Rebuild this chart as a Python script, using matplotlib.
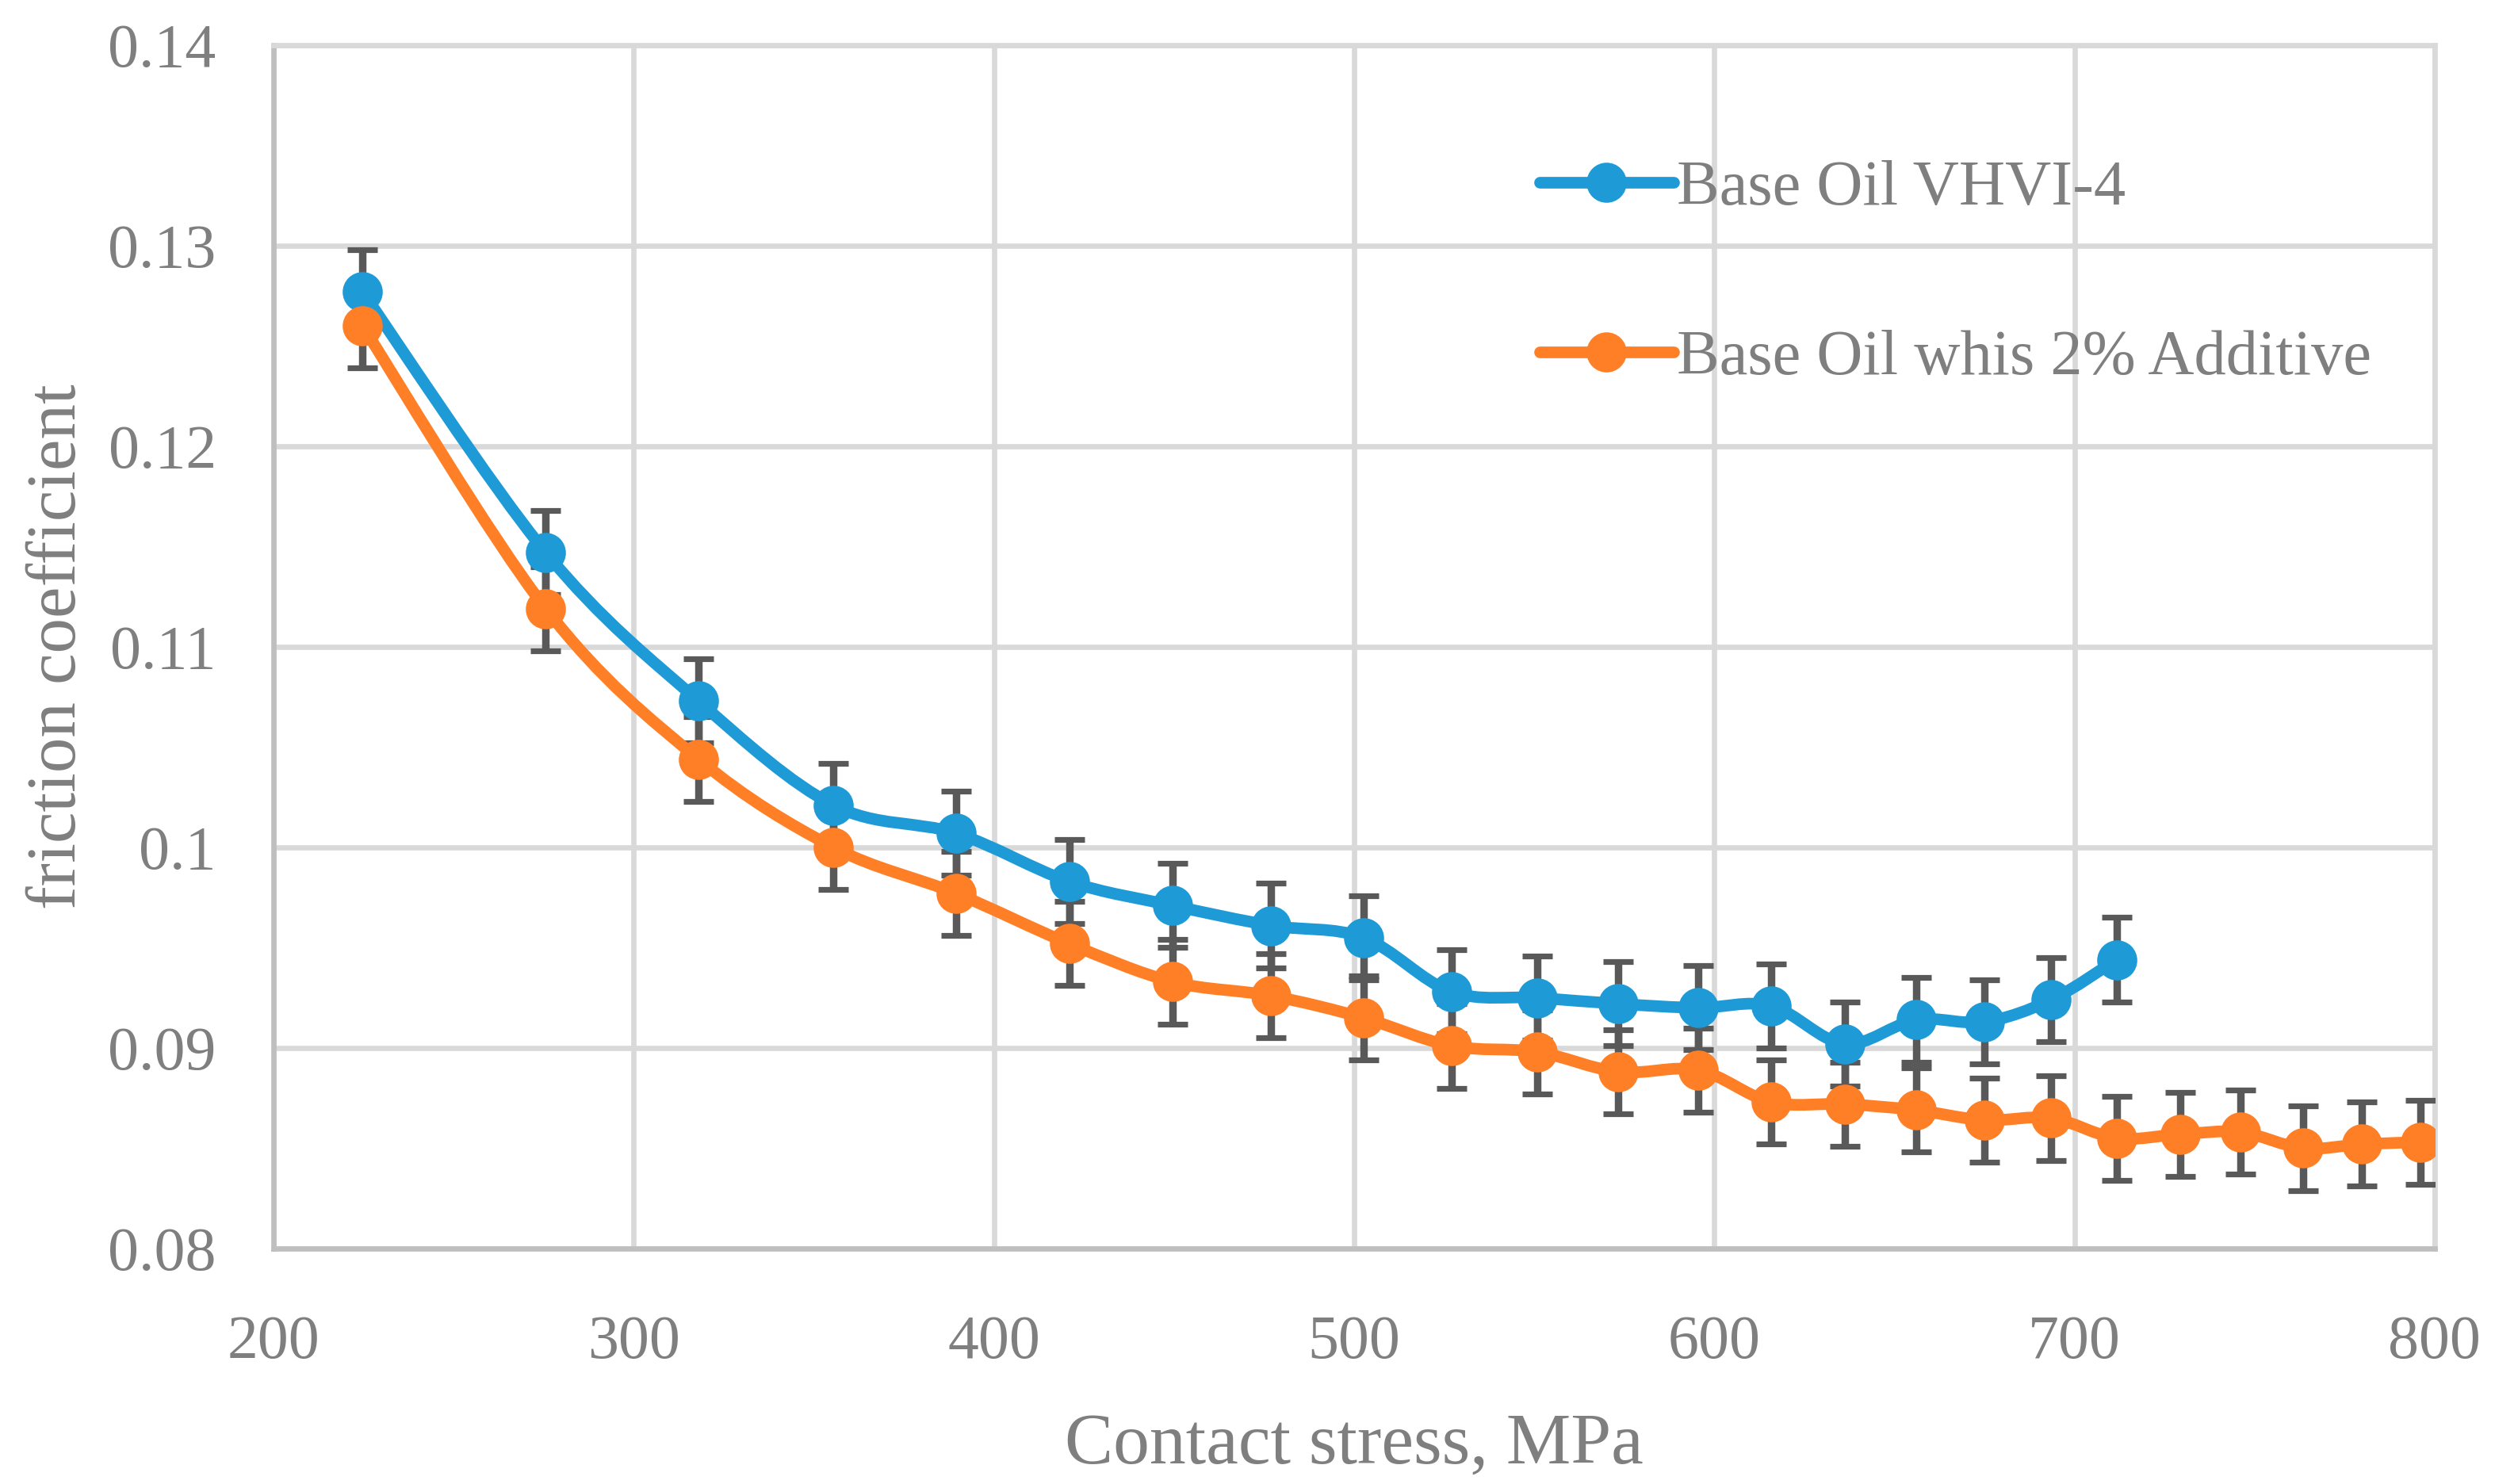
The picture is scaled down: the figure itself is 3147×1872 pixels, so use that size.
import numpy as np
import matplotlib
matplotlib.use("Agg")
import matplotlib.pyplot as plt
from matplotlib.path import Path
from matplotlib.patches import PathPatch
from matplotlib.lines import Line2D

# ---- data ----
stress_base = [224.7, 275.6, 318.0, 355.5, 389.6, 420.9, 449.6, 477.0, 502.6, 527.0,
               550.9, 573.4, 595.5, 615.8, 636.2, 656.0, 675.0, 693.6, 711.7]
mu_base = [0.1277, 0.1147, 0.1073, 0.1021, 0.1007, 0.0983, 0.0971, 0.0961, 0.0955, 0.0928,
           0.0925, 0.0922, 0.0920, 0.0921, 0.0902, 0.0914, 0.0913, 0.0924, 0.0944]

stress_add = [224.7, 275.6, 318.0, 355.5, 389.6, 420.9, 449.6, 477.0, 502.6, 527.0,
              550.9, 573.4, 595.5, 615.8, 636.2, 656.0, 675.0, 693.6, 711.7, 729.4,
              746.2, 763.4, 779.8, 796.1]
mu_add = [0.1260, 0.1119, 0.1044, 0.1000, 0.0977, 0.0952, 0.0933, 0.0926, 0.0915, 0.0901,
          0.0898, 0.0888, 0.0889, 0.0873, 0.0872, 0.0869, 0.0864, 0.0865, 0.0855, 0.0857,
          0.0858, 0.0850, 0.0852, 0.0853]

err_base = 0.0021
err_add = 0.0021

labels = ["Base Oil VHVI-4", "Base Oil whis 2% Additive"]
colors = ["#1E9BD7", "#FF7F27"]
xticks = [200, 300, 400, 500, 600, 700, 800]
yticks = [0.08, 0.09, 0.10, 0.11, 0.12, 0.13, 0.14]
ytick_labels = ["0.08", "0.09", "0.1", "0.11", "0.12", "0.13", "0.14"]

FONT = ["Liberation Serif", "DejaVu Serif"]
TXT = "#7F7F7F"
GRID = "#D9D9D9"

plt.rcParams['font.family'] = FONT

fig = plt.figure(figsize=(15.735, 9.36), dpi=200)
ax = fig.add_axes([0.1096, 0.1587, 0.8662, 0.8109])


def smooth_path(x, y):
    p = np.column_stack([x, y]).astype(float)
    n = len(p)
    verts = [p[0]]
    codes = [Path.MOVETO]
    for i in range(n - 1):
        p0 = p[i - 1] if i > 0 else p[i]
        p1 = p[i]
        p2 = p[i + 1]
        p3 = p[i + 2] if i + 2 < n else p[i + 1]
        c1 = p1 + (p2 - p0) / 6.0
        c2 = p2 - (p3 - p1) / 6.0
        verts += [c1, c2, p2]
        codes += [Path.CURVE4] * 3
    return Path(verts, codes)


series = [(stress_base, mu_base, err_base, colors[0]),
          (stress_add, mu_add, err_add, colors[1])]

for x, y, e, c in series:
    ax.errorbar(x, y, yerr=e, fmt="none", ecolor="#595959", elinewidth=3.4,
                capsize=6.9, capthick=2.6, zorder=3)

for x, y, e, c in series:
    ax.add_patch(PathPatch(smooth_path(x, y), facecolor="none", edgecolor=c,
                           lw=5.3, capstyle="round", joinstyle="round", zorder=4))
    ax.plot(x, y, linestyle="none", marker="o", markersize=17.2, color=c, zorder=5)

ax.set_xlim(200, 800)
ax.set_ylim(0.08, 0.14)
ax.set_xticks(xticks)
ax.set_yticks(yticks)
ax.set_yticklabels(ytick_labels)
ax.tick_params(length=0, labelsize=28, labelcolor=TXT)
ax.tick_params(axis="y", pad=26)
ax.tick_params(axis="x", pad=30)
ax.grid(True, color=GRID, lw=2.4)
ax.set_axisbelow(True)
for s in ["top", "right"]:
    ax.spines[s].set_color(GRID)
    ax.spines[s].set_linewidth(2.4)
for s in ["left", "bottom"]:
    ax.spines[s].set_color("#BFBFBF")
    ax.spines[s].set_linewidth(2.4)

ax.set_xlabel("Contact stress, MPa", fontsize=33, color=TXT, labelpad=19)
ax.set_ylabel("friction coefficient", fontsize=32, color=TXT, labelpad=8)

handles = [Line2D([], [], color=c, lw=5.3, marker="o", markersize=17.2, solid_capstyle="round")
           for c in colors]
leg = ax.legend(handles, labels, loc="upper left", bbox_to_anchor=(0.574, 0.926),
                frameon=False, fontsize=29, labelcolor=TXT, handlelength=2.1,
                handletextpad=0.05, labelspacing=1.75, borderaxespad=0)

fig.savefig("out.png", dpi=200, facecolor="white")
